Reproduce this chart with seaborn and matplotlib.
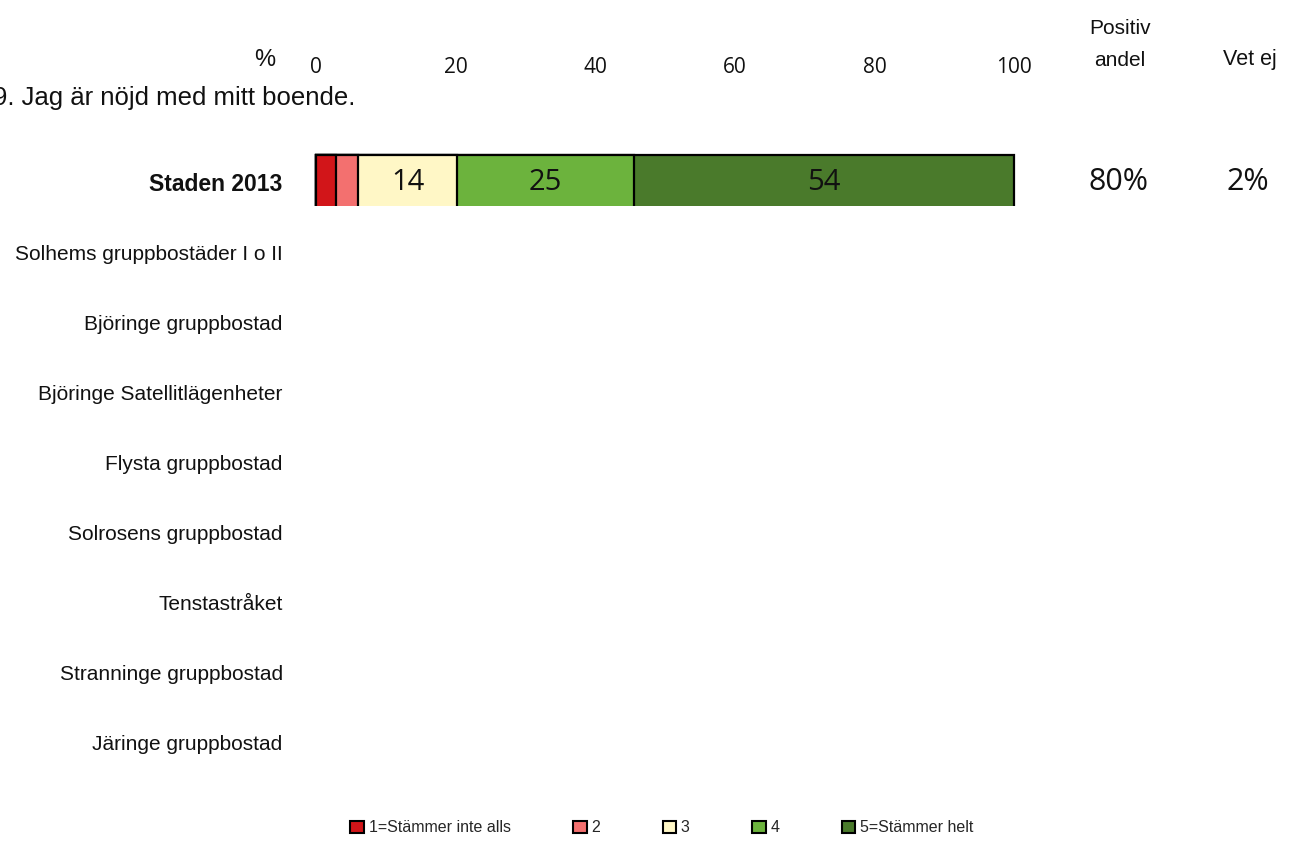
import numpy as np
import pandas as pd
import matplotlib
matplotlib.use("Agg")
import matplotlib.pyplot as plt
from matplotlib.patches import Patch
from matplotlib.transforms import Bbox, TransformedBbox
import seaborn as sns

# Survey units (rows) and answer levels
units = [
    "Staden 2013",
    "Solhems gruppbostäder I o II",
    "Björinge gruppbostad",
    "Björinge Satellitlägenheter",
    "Flysta gruppbostad",
    "Solrosens gruppbostad",
    "Tenstastråket",
    "Stranninge gruppbostad",
    "Järinge gruppbostad",
]
levels = ["1=Stämmer inte alls", "2", "3", "4", "5=Stämmer helt"]
level_colors = ["#D21519", "#F3706F", "#FFF7C6", "#6CB33D", "#4A7A2B"]

# Share per answer level (%), only the city total has answers
staden_shares = [2.9, 3.1, 14.2, 25.4, 54.4]
positive_share = ["80%"] + [""] * 8
dont_know = ["2%"] + [""] * 8
xticks = [0, 20, 40, 60, 80, 100]

sns.set_theme(style="white")
plt.rcParams["font.family"] = ["Liberation Sans", "DejaVu Sans"]

W, H = 1305, 841
fig = plt.figure(figsize=(W / 100, H / 100), dpi=100)
ax_left, ax_right = 316, 1014
ax_top, ax_bottom = 147, 777
ax = fig.add_axes([ax_left / W, 1 - ax_bottom / H,
                   (ax_right - ax_left) / W, (ax_bottom - ax_top) / H])

# Long table of cumulative totals for overlaid (stacked) bars
rows = []
cum = np.cumsum(staden_shares)
for lev, c in zip(levels, cum):
    rows.append({"unit": units[0], "level": lev, "cum": c})
df = pd.DataFrame(rows)

for lev, col in reversed(list(zip(levels, level_colors))):
    sub = df[df["level"] == lev]
    sns.barplot(data=sub, x="cum", y="unit", order=units, color=col,
                orient="h", width=0.77, edgecolor="black", linewidth=1.6,
                saturation=1, ax=ax)

ax.set_xlim(0, 100)
ax.set_ylim(8.5, -0.5)

# Bars are cut off just below the row centre line
clip = TransformedBbox(Bbox([[-5, -1.0], [105, 0.345]]), ax.transData)
for p in ax.patches:
    p.set_clip_box(clip)

# Segment labels
num_font = "Open Sans"
starts = np.concatenate([[0], cum[:-1]])
for s, v in zip(starts, staden_shares):
    if v >= 5:
        ax.text(s + v / 2, 0, f"{v:.0f}", ha="center", va="center",
                fontsize=21, family=num_font, color="#111111")

# Side columns
ytrans = ax.get_yaxis_transform()
for i in range(len(units)):
    ax.text((1118 - ax_left) / (ax_right - ax_left), i, positive_share[i],
            transform=ytrans, ha="center", va="center", fontsize=22,
            family=num_font, color="#111111")
    ax.text((1248 - ax_left) / (ax_right - ax_left), i, dont_know[i],
            transform=ytrans, ha="center", va="center", fontsize=22,
            family=num_font, color="#111111")

ax.xaxis.tick_top()
ax.set_xticks(xticks)
ax.set_xticklabels([str(t) for t in xticks], family=num_font, fontsize=15)
ax.tick_params(axis="x", length=0, pad=50, colors="#111111")
ax.tick_params(axis="y", length=0, pad=24)
ax.set_yticks(range(len(units)))
ax.set_yticklabels(units, fontsize=15, color="#111111")
ax.get_yticklabels()[0].set_fontweight("bold")
ax.get_yticklabels()[0].set_fontsize(16.5)
ax.set_xlabel("")
ax.set_ylabel("")
for sp in ax.spines.values():
    sp.set_visible(False)
ax.grid(False)

fig.text(265 / W, 1 - 60 / H, "%", ha="center", va="center", fontsize=17,
         color="#111111")
fig.text(-7 / W, 1 - 98 / H, "9. Jag är nöjd med mitt boende.", ha="left",
         va="center", fontsize=18.5, color="#111111")
fig.text(1120 / W, 1 - 28 / H, "Positiv", ha="center", va="center",
         fontsize=15, color="#111111")
fig.text(1120 / W, 1 - 60 / H, "andel", ha="center", va="center",
         fontsize=15, color="#111111")
fig.text(1250 / W, 1 - 60 / H, "Vet ej", ha="center", va="center",
         fontsize=15.5, color="#111111")

handles = [Patch(facecolor=c, edgecolor="black", linewidth=1.5, label=l)
           for l, c in zip(levels, level_colors)]
fig.legend(handles=handles, loc="center", bbox_to_anchor=(662 / W, 1 - 828 / H),
           ncol=5, frameon=False, handlelength=0.85,
           handleheight=0.85, handletextpad=0.3, columnspacing=3.9,
           prop={"family": "Liberation Sans", "size": 11.5})

fig.savefig("out.png", dpi=100)
